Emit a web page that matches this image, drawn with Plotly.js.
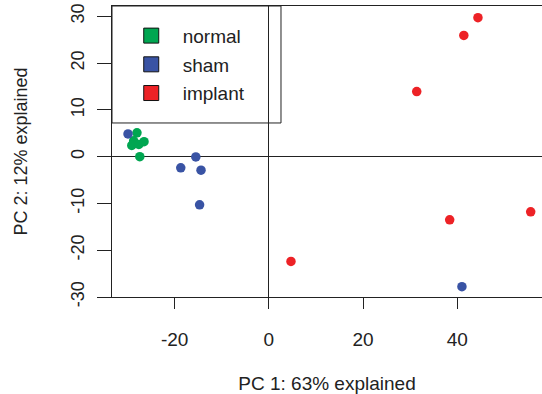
<!DOCTYPE html>
<html>
<head>
<meta charset="utf-8">
<script src="https://cdn.plot.ly/plotly-3.0.1.min.js"></script>
<style>html,body{margin:0;padding:0;background:#fff;}</style>
</head>
<body>
<div id="chart" style="width:542px;height:394px;"></div>
<script>
const groups = ['normal', 'sham', 'implant'];
const groupColors = ['#00a651', '#3953a4', '#ed2226'];

const normalPC1 = [-28.0, -28.7, -26.5, -29.1, -27.6, -27.4];
const normalPC2 = [5.1, 3.4, 3.2, 2.4, 2.6, 0.0];

const shamPC1 = [-29.9, -15.5, -18.7, -14.4, -14.7, 41.0];
const shamPC2 = [4.85, -0.07, -2.4, -2.9, -10.3, -27.8];

const implantPC1 = [44.4, 41.4, 31.4, 38.4, 55.6, 4.7];
const implantPC2 = [29.7, 25.9, 13.9, -13.5, -11.8, -22.4];

const xTicks = [-20, 0, 20, 40];
const yTicks = [-30, -20, -10, 0, 10, 20, 30];

const seriesX = [normalPC1, shamPC1, implantPC1];
const seriesY = [normalPC2, shamPC2, implantPC2];

const traces = [];
groups.forEach((g, i) => {
  traces.push({
    type: 'scatter', mode: 'markers', name: g,
    x: seriesX[i], y: seriesY[i],
    marker: {color: groupColors[i], size: 9.5, line: {width: 0}},
    showlegend: false, cliponaxis: false, hoverinfo: 'x+y'
  });
});
groups.forEach((g, i) => {
  traces.push({
    type: 'scatter', mode: 'markers', name: g,
    x: [null], y: [null], legendgroup: g,
    marker: {color: groupColors[i], size: 15, symbol: 'square', line: {width: 1, color: '#111'}},
    showlegend: true
  });
});

const font = {family: 'Liberation Sans, Arial, sans-serif', size: 18, color: '#222'};
const hfont = {family: 'Liberation Sans, Arial, sans-serif', size: 19, color: '#222'};

const layout = {
  width: 542, height: 394,
  margin: {l: 112, r: 0, t: 6, b: 97},
  paper_bgcolor: '#fff', plot_bgcolor: '#fff',
  font: font,
  showlegend: true,
  legend: {
    x: 0.018, y: 0.963, xanchor: 'left', yanchor: 'top',
    bgcolor: 'rgba(0,0,0,0)', borderwidth: 0,
    font: hfont,
    tracegroupgap: 1, itemwidth: 53
  },
  xaxis: {
    range: [-33.3, 58.0], tickvals: xTicks, ticktext: xTicks.map(String),
    showgrid: false, zeroline: true, zerolinecolor: '#222', zerolinewidth: 1,
    showline: true, linecolor: '#222', linewidth: 1, mirror: true,
    ticks: 'outside', ticklen: 11, tickcolor: '#222', ticklabelstandoff: 14,
    tickfont: hfont,
    title: {text: 'PC 1: 63% explained', standoff: 28, font: hfont}
  },
  yaxis: {
    range: [-30, 32.2], tickvals: yTicks, ticktext: yTicks.map(String),
    showgrid: false, zeroline: true, zerolinecolor: '#222', zerolinewidth: 1,
    showline: true, linecolor: '#222', linewidth: 1, mirror: false,
    ticks: 'outside', ticklen: 14, tickcolor: '#222', tickangle: -90, ticklabelstandoff: 6,
    title: {text: 'PC 2: 12% explained', standoff: 35, font: font}
  },
  shapes: [{
    type: 'rect', xref: 'paper', yref: 'paper',
    x0: 0, x1: 0.393, y0: 0.598, y1: 1,
    line: {color: '#222', width: 1}, fillcolor: 'rgba(0,0,0,0)', layer: 'below'
  }]
};

Plotly.newPlot('chart', traces, layout, {displayModeBar: false, staticPlot: true});
</script>
</body>
</html>
